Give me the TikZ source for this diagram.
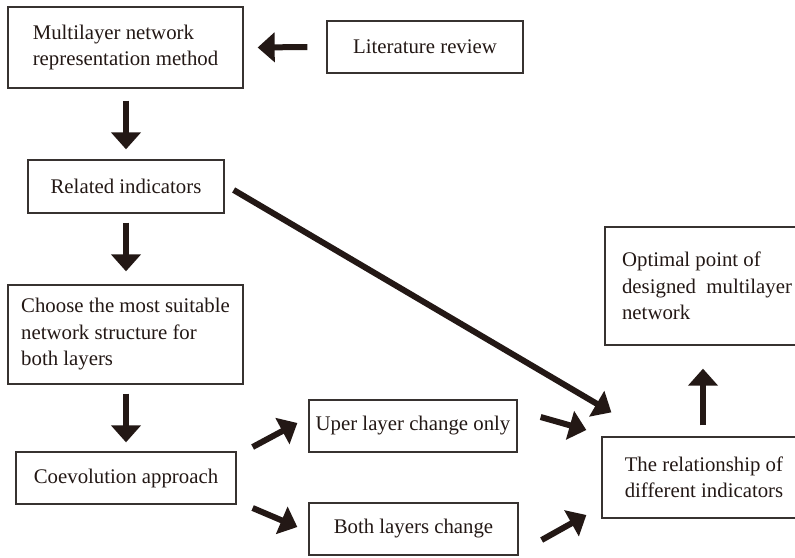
\documentclass[tikz,border=0pt]{standalone}
\usepackage{fontspec}
\setmainfont{Liberation Serif}
\usetikzlibrary{arrows.meta,calc}
\definecolor{ink}{RGB}{35,24,21}
\definecolor{frame}{RGB}{55,50,48}
\begin{document}
\begin{tikzpicture}[x=1pt,y=-1pt,
  box/.style={draw=frame, line width=1.3pt, rectangle, inner sep=0pt, align=left,
    font=\fontsize{20.8}{26.5}\selectfont, text=ink},
  flow/.style={draw=ink, line width=6pt, -{Triangle[width=29pt,length=17pt]}}]
\path[use as bounding box, clip] (0,0) rectangle (795,557);
\fill[white] (0,0) rectangle (795,557);

% boxes
\node[box, minimum width=235pt, minimum height=81pt] (rep) at (125.5,47.5)
  {Multilayer network\\representation method};
\node[box, minimum width=196pt, minimum height=52pt] (lit) at (425,47)
  {Literature review};
\node[box, minimum width=196pt, minimum height=53pt] (rel) at (126,186.5)
  {Related indicators};
\node[box, minimum width=235pt, minimum height=99pt] (choose) at (125.5,334.5)
  {Choose the most suitable\\network structure for\\both layers};
\node[box, minimum width=220pt, minimum height=52pt] (coevo) at (126,478)
  {Coevolution approach};
\node[box, minimum width=208pt, minimum height=52pt] (uper) at (413,426)
  {Uper layer change only};
\node[box, minimum width=209pt, minimum height=52pt] (both) at (413.5,529)
  {Both layers change};
\node[box, minimum width=204pt, minimum height=81pt] (relat) at (704,477.5)
  {The relationship of\\different indicators};
\node[box, minimum width=204pt, minimum height=118pt] (opt) at (707,286)
  {Optimal point of\\designed\ \ multilayer\\network};

% connectors
\draw[flow] ($(lit.west)+(-19,0)$) -- ($(rep.east)+(14,0)$);
\draw[flow] ($(rep.south)+(0.5,12)$) -- ($(rel.north)+(0,-10)$);
\draw[flow] ($(rel.south)+(0,9)$) -- ($(choose.north)+(0.5,-13)$);
\draw[flow] ($(choose.south)+(0.5,9)$) -- ($(coevo.north)+(0,-9)$);
\draw[flow] ($(rel.east)+(9,3.5)$) -- ($(relat.north west)+(10,-24)$);
\draw[flow] ($(coevo.east)+(16,-31)$) -- ($(uper.west)+(-11,-3)$);
\draw[flow] ($(coevo.east)+(16,30)$) -- ($(both.west)+(-11,-2)$);
\draw[flow] ($(uper.east)+(23,-9)$) -- ($(relat.west)+(-15,-47.5)$);
\draw[flow] ($(both.east)+(23,11)$) -- ($(relat.west)+(-15,37.5)$);
\draw[flow] ($(relat.north)+(-1,-11)$) -- ($(opt.south)+(-4,23)$);
\end{tikzpicture}
\end{document}
